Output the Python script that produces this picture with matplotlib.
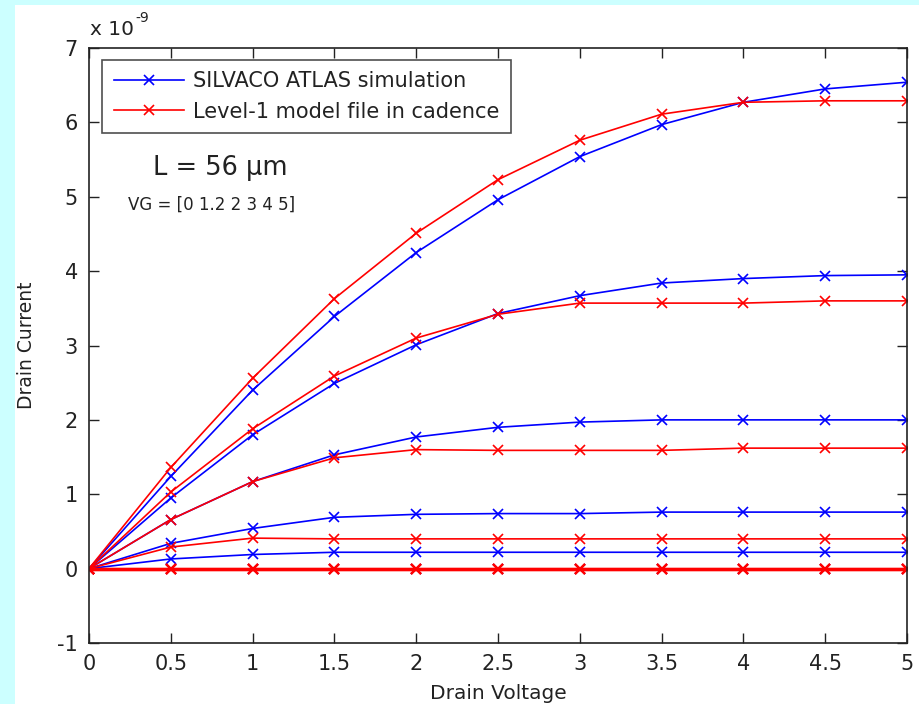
import matplotlib
matplotlib.use("Agg")
import matplotlib.pyplot as plt
from matplotlib.patches import Rectangle

plt.rcParams['font.family'] = ['DejaVu Sans']
plt.rcParams['axes.unicode_minus'] = False

# Drain voltage (V)
vd = [0, 0.5, 1, 1.5, 2, 2.5, 3, 3.5, 4, 4.5, 5]
vg_labels = ["0", "1.2", "2", "3", "4", "5"]

# Drain current in units of 1e-9 A -- SILVACO ATLAS simulation (blue)
atlas_vg0 = [0, 0, 0, 0, 0, 0, 0, 0, 0, 0, 0]
atlas_vg12 = [0, 0.13, 0.19, 0.22, 0.22, 0.22, 0.22, 0.22, 0.22, 0.22, 0.22]
atlas_vg2 = [0, 0.34, 0.54, 0.69, 0.73, 0.74, 0.74, 0.76, 0.76, 0.76, 0.76]
atlas_vg3 = [0, 0.66, 1.17, 1.53, 1.77, 1.90, 1.97, 2.00, 2.00, 2.00, 2.00]
atlas_vg4 = [0, 0.95, 1.80, 2.49, 3.01, 3.43, 3.67, 3.84, 3.90, 3.94, 3.95]
atlas_vg5 = [0, 1.24, 2.40, 3.39, 4.25, 4.96, 5.54, 5.97, 6.27, 6.45, 6.54]

# Level-1 model file in cadence (red)
cad_vg0 = [0, 0, 0, 0, 0, 0, 0, 0, 0, 0, 0]
cad_vg12 = [0, 0, 0, 0, 0, 0, 0, 0, 0, 0, 0]
cad_vg2 = [0, 0.29, 0.41, 0.40, 0.40, 0.40, 0.40, 0.40, 0.40, 0.40, 0.40]
cad_vg3 = [0, 0.66, 1.17, 1.49, 1.60, 1.59, 1.59, 1.59, 1.62, 1.62, 1.62]
cad_vg4 = [0, 1.03, 1.88, 2.59, 3.10, 3.42, 3.57, 3.57, 3.57, 3.60, 3.60]
cad_vg5 = [0, 1.36, 2.56, 3.63, 4.51, 5.23, 5.76, 6.11, 6.27, 6.29, 6.29]

atlas = [atlas_vg0, atlas_vg12, atlas_vg2, atlas_vg3, atlas_vg4, atlas_vg5]
cadence = [cad_vg0, cad_vg12, cad_vg2, cad_vg3, cad_vg4, cad_vg5]

W, H = 919, 704
fig = plt.figure(figsize=(W / 100, H / 100), dpi=100)
fig.patch.set_facecolor('#ccffff')
bg = Rectangle((15 / W, 0), 1 - 15 / W, 1 - 5 / H,
               transform=fig.transFigure, facecolor='white',
               edgecolor='none', zorder=-10)
fig.add_artist(bg)

ax = fig.add_axes([89 / W, (H - 643) / H, (907 - 89) / W, (643 - 48) / H])
ax.set_zorder(1)

lw, ms = 1.2, 7
for i, y in enumerate(atlas):
    ax.plot(vd, y, color='#0000ff', marker='x', lw=lw, ms=ms, mew=1.2,
            label='SILVACO ATLAS simulation' if i == len(atlas) - 1 else None)
for i, y in enumerate(cadence):
    flat = max(abs(v) for v in y) == 0
    ax.plot(vd, y, color='#ff0000', marker='x', lw=2.4 if flat else lw, ms=ms,
            mew=1.6 if flat else 1.2,
            label='Level-1 model file in cadence' if i == len(cadence) - 1 else None)

ax.set_xlim(0, 5)
ax.set_ylim(-1, 7)
ax.set_xticks([0, 0.5, 1, 1.5, 2, 2.5, 3, 3.5, 4, 4.5, 5])
ax.set_xticklabels(['0', '0.5', '1', '1.5', '2', '2.5', '3', '3.5', '4', '4.5', '5'])
ax.set_yticks([-1, 0, 1, 2, 3, 4, 5, 6, 7])
ax.set_yticklabels(['-1', '0', '1', '2', '3', '4', '5', '6', '7'])
ax.tick_params(direction='in', length=7, width=1, top=True, right=True,
               labelsize=15, pad=8, color='#222222', labelcolor='#222222')
for s in ax.spines.values():
    s.set_linewidth(1.2)
    s.set_color('#222222')

ax.set_xlabel('Drain Voltage', fontsize=14.5, labelpad=7, color='#222222')
ax.set_ylabel('Drain Current', fontsize=13.5, labelpad=15, color='#222222')

leg = ax.legend(loc='upper left', bbox_to_anchor=(0.016, 0.98), borderaxespad=0,
                fontsize=15, frameon=True, fancybox=False, handlelength=3.4,
                labelspacing=0.5, borderpad=0.55, handletextpad=0.4)
leg.get_frame().set_edgecolor('#222222')
leg.get_frame().set_linewidth(1.2)
for t in leg.get_texts():
    t.set_color('#222222')

fig.text(153 / W, 1 - 168 / H, 'L = 56 µm', fontsize=18.5, va='center', ha='left', color='#222222')
fig.text(128 / W, 1 - 205 / H, 'VG = [0 1.2 2 3 4 5]', fontsize=12, va='center', ha='left', color='#222222')
fig.text(90 / W, 1 - 35 / H, 'x 10', fontsize=14.5, va='baseline', ha='left', color='#222222')
fig.text(135 / W, 1 - 22 / H, '-9', fontsize=10, va='baseline', ha='left', color='#222222')

fig.savefig('out.png', dpi=100, facecolor=fig.get_facecolor())
